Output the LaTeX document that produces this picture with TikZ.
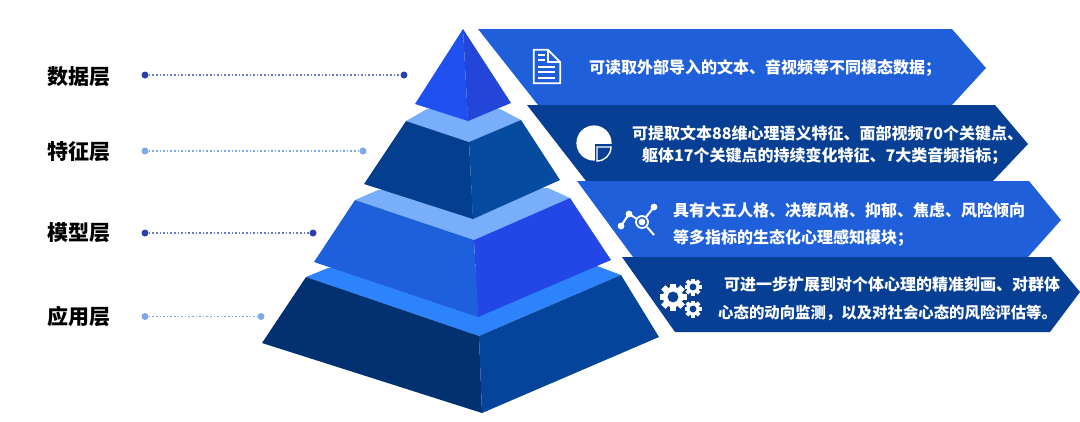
\documentclass[tikz,border=0pt]{standalone}
\usepackage{fontspec}
\setmainfont{Noto Sans CJK SC}
\definecolor{bandlight}{HTML}{1F5FD9}
\definecolor{banddark}{HTML}{063F93}
\definecolor{tipleft}{HTML}{1F51F0}
\definecolor{tipright}{HTML}{2346D8}
\definecolor{rimlight}{HTML}{78AEFA}
\definecolor{rimbase}{HTML}{2D83FB}
\definecolor{upleft}{HTML}{043F8F}
\definecolor{upright}{HTML}{054BA0}
\definecolor{midleft}{HTML}{1E60DC}
\definecolor{midright}{HTML}{2347E6}
\definecolor{lowleft}{HTML}{013170}
\definecolor{lowright}{HTML}{04459B}
\definecolor{dotdeep}{HTML}{2B3FAE}
\definecolor{dotpale}{HTML}{7FA8E8}
\tikzset{layername/.style={font=\fontsize{21}{24}\selectfont\bfseries, text=black, inner sep=0pt}}
\tikzset{bandtext/.style={font=\fontsize{16}{19}\selectfont\bfseries, text=white, inner sep=0pt, anchor=west}}
\tikzset{bandsmall/.style={bandtext, font=\fontsize{15.4}{19}\selectfont\bfseries}}
\tikzset{dotdark/.style={shape=circle, fill=dotdeep, inner sep=0pt, minimum size=7pt}}
\tikzset{dotlight/.style={shape=circle, fill=dotpale, inner sep=0pt, minimum size=7pt}}
\tikzset{linedark/.style={draw=dotdeep!70, line width=1.6pt, dotted}}
\tikzset{linelight/.style={draw=dotpale, line width=1.6pt, dotted}}
\newcommand{\gearglyph}[4]{
  \foreach \a in {0,45,...,315}
    \fill[white, rotate around={\a:(#1,#2)}] ({#1-#3*0.22},{#2-#3}) rectangle ({#1+#3*0.22},{#2+#3});
  \fill[white] (#1,#2) circle ({#3*0.76});
  \fill[#4] (#1,#2) circle ({#3*0.4});
}
\begin{document}
\begin{tikzpicture}[x=1pt, y=-1pt]
  \useasboundingbox (0,0) rectangle (1080,421);

  \fill[bandlight] (478,29) -- (952,29) -- (986,68) -- (952,105) -- (538,105) -- cycle;
  \fill[banddark] (527,105) -- (995,105) -- (1028,144) -- (993,181) -- (586,181) -- cycle;
  \fill[bandlight] (577,181) -- (1029,181) -- (1061,220) -- (1028,257) -- (633,257) -- cycle;
  \fill[banddark] (622,257) -- (1051,257) -- (1080,292) -- (1050,332) -- (675,332) -- cycle;

  \fill[rimbase] (306,277) -- (328,268) -- (597,266) -- (621,275) -- (479,336) -- cycle;
  \fill[lowleft] (306,277) -- (479,336) -- (482,413) -- (262,343) -- cycle;
  \fill[lowright] (621,275) -- (479,336) -- (482,413) -- (659,337) -- cycle;

  \fill[rimlight] (355,200) -- (378,190) -- (548,188) -- (570,198) -- (474,240) -- cycle;
  \fill[midleft] (355,200) -- (474,240) -- (478,317) -- (314,262) -- cycle;
  \fill[midright] (570,198) -- (474,240) -- (478,317) -- (611,260) -- cycle;

  \fill[rimlight] (406,121) -- (427,109) -- (500,109) -- (521,120) -- (469,142) -- cycle;
  \fill[upleft] (406,121) -- (469,142) -- (473,219) -- (364,184) -- cycle;
  \fill[upright] (521,120) -- (469,142) -- (473,219) -- (560,180) -- cycle;

  \fill[tipleft] (463,29) -- (468,121) -- (415,104) -- cycle;
  \fill[tipright] (463,29) -- (468,121) -- (511,103) -- cycle;

  \node (L1) [layername] at (79,77) {数据层};
  \node (L2) [layername] at (79,152) {特征层};
  \node (L3) [layername] at (79,233) {模型层};
  \node (L4) [layername] at (79,316) {应用层};

  \node (A1) [dotdark] at (145,75) {};
  \node (B1) [dotdark, right of = A1, node distance = 259pt] {};
  \node (A2) [dotlight] at (145,151) {};
  \node (B2) [dotlight, right of = A2, node distance = 218pt] {};
  \node (A3) [dotdark] at (145,233) {};
  \node (B3) [dotdark, right of = A3, node distance = 168pt] {};
  \node (A4) [dotlight] at (145,316.5) {};
  \node (B4) [dotlight, right of = A4, node distance = 116pt] {};

  \path[linedark] (A1) -- (B1);
  \path[linelight] (A2) -- (B2);
  \path[linedark] (A3) -- (B3);
  \path[linelight] (A4) -- (B4);

  \node (T1) [bandtext] at (589,68) {可读取外部导入的文本、音视频等不同模态数据\symbol{"FF1B}};
  \node (T2) [bandtext] at (632,133) {可提取文本88维心理语义特征、面部视频70个关键点、};
  \node (T3) [bandtext] at (642,156) {躯体17个关键点的持续变化特征、7大类音频指标\symbol{"FF1B}};
  \node (T4) [bandtext] at (673,210) {具有大五人格、决策风格、抑郁、焦虑、风险倾向};
  \node (T5) [bandtext] at (673,238) {等多指标的生态化心理感知模块\symbol{"FF1B}};
  \node (T6) [bandtext] at (724,284) {可进一步扩展到对个体心理的精准刻画、对群体};
  \node (T7) [bandsmall] at (718,313) {心态的动向监测\symbol{"FF0C}以及对社会心态的风险评估等。};

  \draw[white, line width=1.7pt, line join=miter] (533.8,49.8) -- (548,49.8) -- (560.2,62) -- (560.2,83.2) -- (533.8,83.2) -- cycle;
  \draw[white, line width=1.5pt] (548,49.8) -- (548,62) -- (560.2,62);
  \foreach \y in {55,60} \draw[white, line width=1.7pt] (538,\y) -- (545,\y);
  \foreach \y in {67,72,78} \draw[white, line width=1.7pt] (538,\y) -- (555,\y);

  \fill[white] (594,143) circle (17.6);
  \fill[banddark] (595,144) rectangle (613,162);
  \draw[white, line width=1.4pt] (597,147) -- (611,147) arc (0:90:14) -- cycle;

  \draw[white, line width=2pt] (621,226) -- (629,214) -- (637,219);
  \draw[white, line width=2pt] (646,217) -- (654,207);
  \draw[white, line width=1.8pt] (642,222) circle (6);
  \draw[white, line width=2pt] (647,227) -- (654,235);
  \foreach \p in {(621,226),(629,214),(654,207),(642,222)} \fill[white] \p circle (3.4);

  \gearglyph{673}{297}{13.5}{banddark}
  \gearglyph{693}{287}{8.5}{banddark}
  \gearglyph{693}{309}{8.5}{banddark}
\end{tikzpicture}
\end{document}
